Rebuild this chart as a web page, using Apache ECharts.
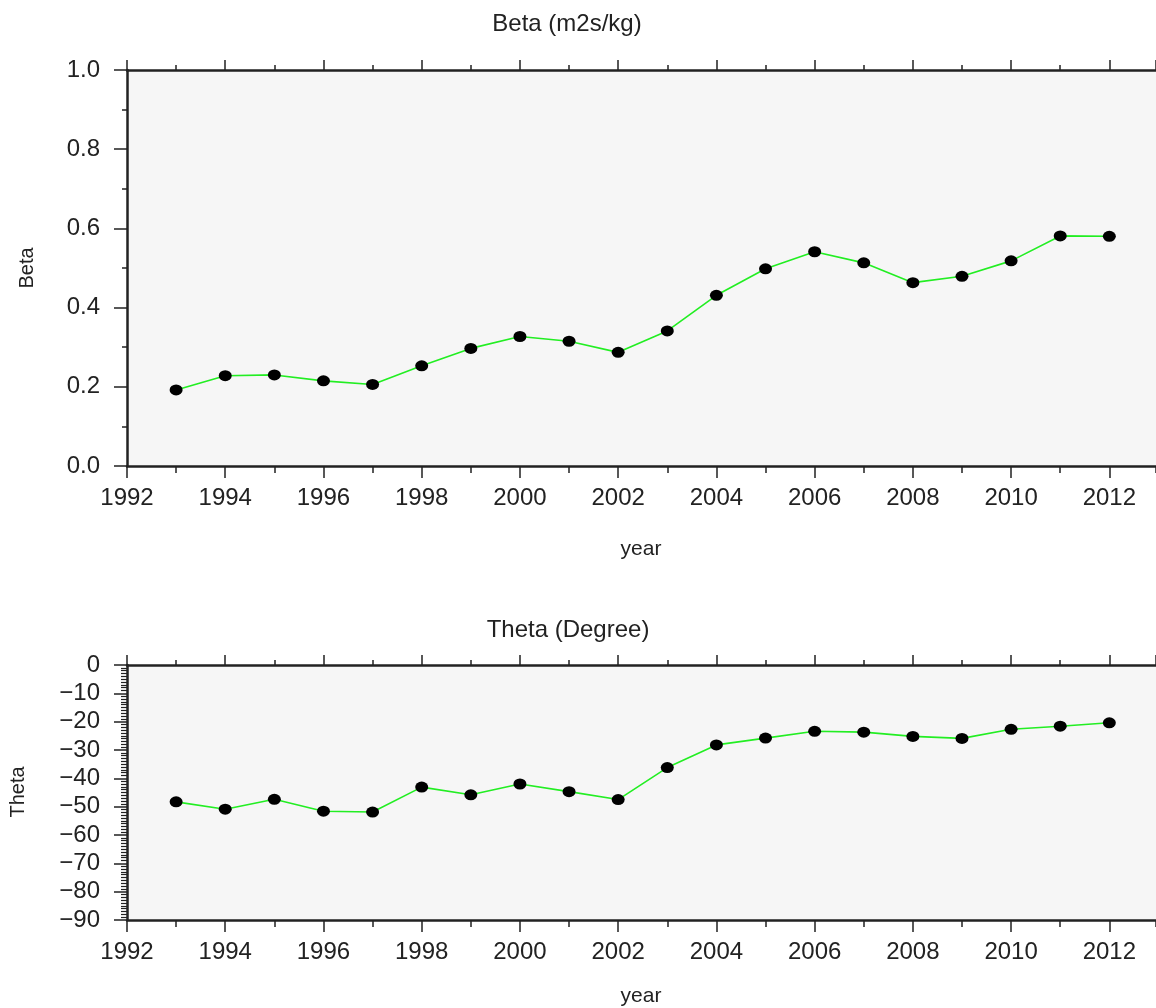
<!DOCTYPE html>
<html>
<head>
<meta charset="utf-8">
<script src="https://cdn.jsdelivr.net/npm/echarts@6/dist/echarts.min.js"></script>
<style>
html,body{margin:0;padding:0;background:#fff;}
#chart{width:1156px;height:1008px;}
</style>
</head>
<body>
<div id="chart"></div>
<script>
const years = [1993,1994,1995,1996,1997,1998,1999,2000,2001,2002,2003,2004,2005,2006,2007,2008,2009,2010,2011,2012];
const beta  = [0.192,0.228,0.230,0.215,0.206,0.253,0.297,0.327,0.315,0.287,0.341,0.431,0.498,0.541,0.513,0.463,0.479,0.518,0.581,0.580];
const theta = [-48.3,-50.9,-47.4,-51.6,-51.9,-43.1,-45.8,-42.0,-44.7,-47.5,-36.2,-28.2,-25.8,-23.4,-23.7,-25.2,-25.9,-22.7,-21.6,-20.4];
const titles = ['Beta (m2s/kg)', 'Theta (Degree)'];
const yNames = ['Beta', 'Theta'];
const xName = 'year';

const FONT = "'Liberation Sans', Arial, Helvetica, sans-serif";
const TXT = '#222';
const AXC = '#222';
const XMIN = 1992, XMAX = 2012.95;

function pairs(xs, ys){ return xs.map((x,i)=>[x, ys[i]]); }

function xAx(gi, pos, interval, tickLen, labels, lineW){
  return {
    gridIndex: gi, type:'value', position:pos, min:XMIN, max:XMAX, interval:interval,
    axisLine:{show:true, onZero:false, lineStyle:{color:AXC, width:lineW}},
    axisTick:{show:true, inside:false, length:tickLen, lineStyle:{color:AXC, width:1.5}},
    splitLine:{show:false},
    axisLabel: labels ? {show:true, margin:20, fontSize:24, fontFamily:FONT, color:TXT,
      showMaxLabel:false, formatter:v=>String(Math.round(v))} : {show:false}
  };
}
function xAxes(gi){
  return [
    xAx(gi,'bottom',2,12,true,2.5),
    xAx(gi,'bottom',1,7,false,0),
    xAx(gi,'top',2,10,false,2.5),
    xAx(gi,'top',1,5,false,0)
  ];
}

const option = {
  animation:false,
  backgroundColor:'#ffffff',
  grid:[
    {left:127, top:70, right:0, height:396, show:true, backgroundColor:'#f6f6f6', borderWidth:0},
    {left:127, top:665, right:0, height:255, show:true, backgroundColor:'#f6f6f6', borderWidth:0}
  ],
  xAxis: xAxes(0).concat(xAxes(1)),
  yAxis:[{
    gridIndex:0, type:'value', min:0, max:1, interval:0.2,
    axisLine:{show:true, onZero:false, lineStyle:{color:AXC, width:2.5}},
    axisTick:{show:true, inside:false, length:13, lineStyle:{color:AXC, width:1.5}},
    minorTick:{show:true, splitNumber:2, length:5, lineStyle:{color:AXC, width:1.5}},
    splitLine:{show:false},
    axisLabel:{margin:27, fontSize:24, fontFamily:FONT, color:TXT, formatter:v=>v.toFixed(1)}
  },{
    gridIndex:1, type:'value', min:-90, max:0, interval:10,
    axisLine:{show:true, onZero:false, lineStyle:{color:AXC, width:2.5}},
    axisTick:{show:true, inside:false, length:13, lineStyle:{color:AXC, width:1.5}},
    minorTick:{show:true, splitNumber:10, length:6, lineStyle:{color:AXC, width:1.2}},
    splitLine:{show:false},
    axisLabel:{margin:27, fontSize:24, fontFamily:FONT, color:TXT,
      formatter:v=> v<0 ? '\u2212'+Math.abs(v) : String(v)}
  }],
  series:[{
    type:'line', xAxisIndex:0, yAxisIndex:0, data:pairs(years, beta),
    symbol:'circle', symbolSize:[13,11], itemStyle:{color:'#000'},
    lineStyle:{color:'#22ee22', width:1.6}, z:3
  },{
    type:'line', xAxisIndex:4, yAxisIndex:1, data:pairs(years, theta),
    symbol:'circle', symbolSize:[13,11], itemStyle:{color:'#000'},
    lineStyle:{color:'#22ee22', width:1.6}, z:3
  }],
  graphic:[
    {type:'text', x:567, y:24, style:{text:titles[0], font:'24px '+FONT, fill:TXT, textAlign:'center', textVerticalAlign:'middle'}},
    {type:'text', x:568, y:630, style:{text:titles[1], font:'24px '+FONT, fill:TXT, textAlign:'center', textVerticalAlign:'middle'}},
    {type:'text', x:641, y:549, style:{text:xName, font:'21px '+FONT, fill:TXT, textAlign:'center', textVerticalAlign:'middle'}},
    {type:'text', x:641, y:996, style:{text:xName, font:'21px '+FONT, fill:TXT, textAlign:'center', textVerticalAlign:'middle'}},
    {type:'text', x:27, y:268, rotation:Math.PI/2, style:{text:yNames[0], font:'20px '+FONT, fill:TXT, textAlign:'center', textVerticalAlign:'middle'}},
    {type:'text', x:18, y:792, rotation:Math.PI/2, style:{text:yNames[1], font:'20px '+FONT, fill:TXT, textAlign:'center', textVerticalAlign:'middle'}}
  ]
};

const chart = echarts.init(document.getElementById('chart'), null, {renderer:'canvas'});
chart.setOption(option);
</script>
</body>
</html>
